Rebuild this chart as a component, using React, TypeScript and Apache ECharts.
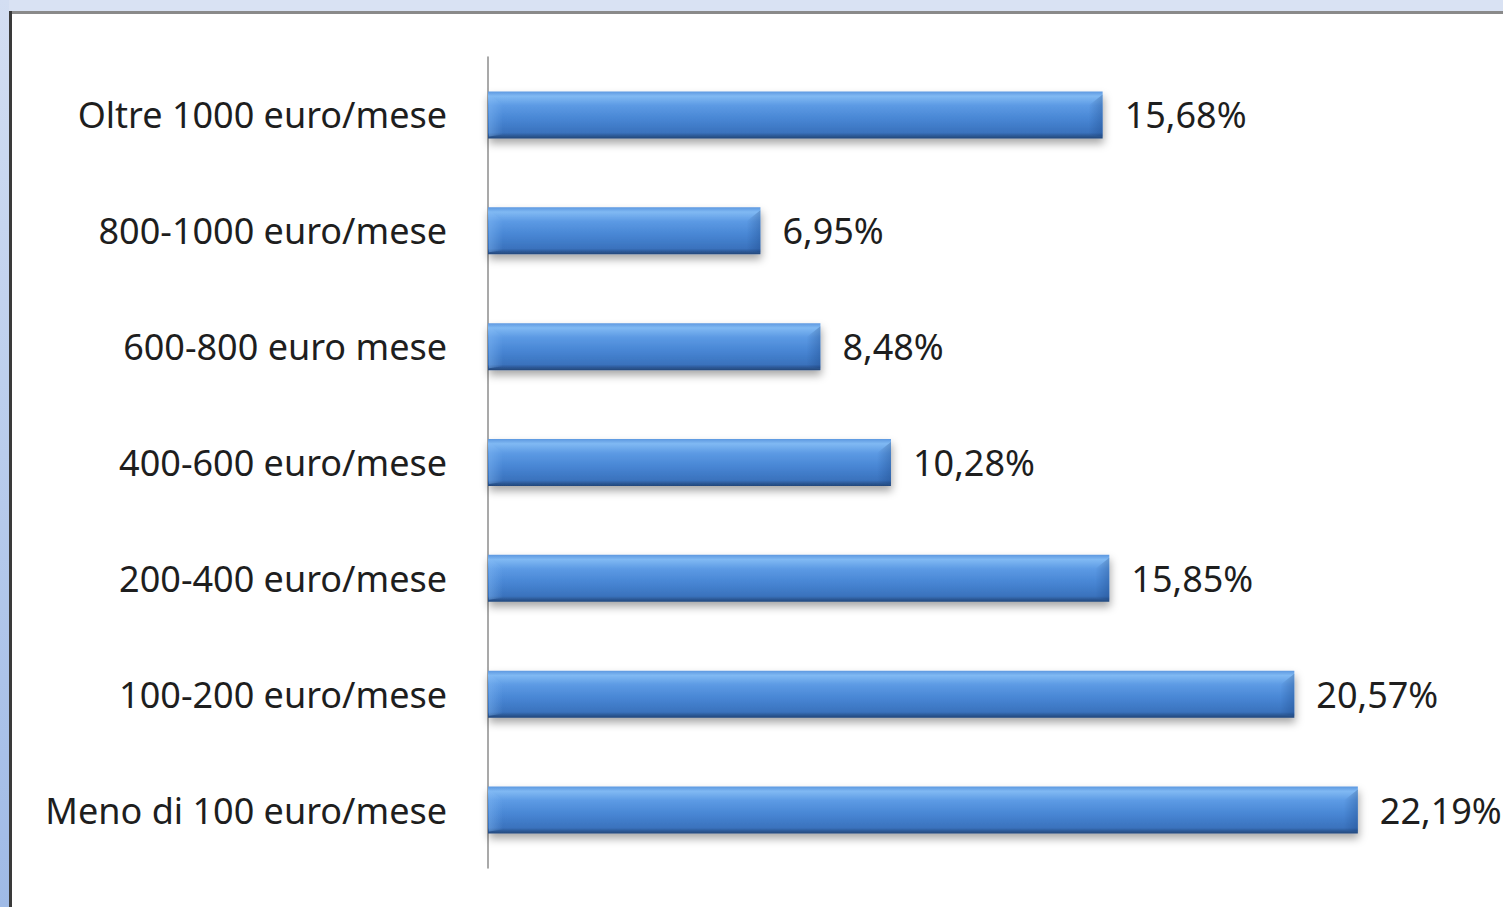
import React, { useEffect, useRef } from "react";
import * as echarts from "echarts";

const categories = [
  "Oltre 1000 euro/mese",
  "800-1000 euro/mese",
  "600-800 euro mese",
  "400-600 euro/mese",
  "200-400 euro/mese",
  "100-200 euro/mese",
  "Meno di 100 euro/mese",
];
const values = [15.68, 6.95, 8.48, 10.28, 15.85, 20.57, 22.19];

const fmt = (v: number) => v.toFixed(2).replace(".", ",") + "%";

export default function App() {
  const ref = useRef<HTMLDivElement>(null);
  useEffect(() => {
    const chart = echarts.init(ref.current!, null, { renderer: "svg" });
    const font = "'Noto Sans', sans-serif";
    const barH = 47;
    chart.setOption({
      animation: false,
      backgroundColor: "#d9e2f3",
      graphic: [
        {
          type: "rect",
          z: -10,
          shape: { x: 0, y: 0, width: 9, height: 907 },
          style: {
            fill: new echarts.graphic.LinearGradient(0, 0, 0, 1, [
              { offset: 0, color: "#d3def2" },
              { offset: 1, color: "#9fbae6" },
            ]),
          },
        },
        { type: "rect", z: -10, shape: { x: 9, y: 11, width: 1494, height: 896 }, style: { fill: "#8a8a8a" } },
        { type: "rect", z: -10, shape: { x: 9, y: 11, width: 3, height: 896 }, style: { fill: "#3a3a3a" } },
        { type: "rect", z: -10, shape: { x: 12, y: 14, width: 1491, height: 893 }, style: { fill: "#ffffff" } },
      ],
      grid: { left: 488, right: 35, top: 57, bottom: 39 },
      xAxis: { type: "value", min: 0, max: 25, show: false },
      yAxis: {
        type: "category",
        data: categories,
        inverse: true,
        axisLine: { show: true, lineStyle: { color: "#8c8c8c", width: 1.5 } },
        axisTick: { show: false },
        axisLabel: { margin: 41, fontSize: 36, color: "#1e1e1e", fontFamily: font },
      },
      series: [
        {
          type: "bar",
          data: values,
          barWidth: barH,
          z: 2,
          itemStyle: {
            color: new echarts.graphic.LinearGradient(0, 0, 0, 1, [
              { offset: 0, color: "#5d98e0" },
              { offset: 0.1, color: "#80b9f3" },
              { offset: 0.3, color: "#5c9ae4" },
              { offset: 0.6, color: "#4785d3" },
              { offset: 0.88, color: "#3a72bd" },
              { offset: 0.94, color: "#2d5a98" },
              { offset: 1, color: "#23477a" },
            ]),
            shadowColor: "rgba(0,0,0,0.35)",
            shadowBlur: 8,
            shadowOffsetY: 5,
            shadowOffsetX: 1,
          },
          label: {
            show: true,
            position: "right",
            distance: 22,
            fontSize: 36,
            color: "#1e1e1e",
            fontFamily: font,
            formatter: (p: any) => fmt(p.value),
          },
        },
        {
          type: "custom",
          z: 3,
          silent: true,
          data: values.map((v, i) => [v, i]),
          encode: { x: 0, y: 1 },
          renderItem: (params: any, api: any) => {
            const v = api.value(0);
            const i = api.value(1);
            const p0 = api.coord([0, i]);
            const p1 = api.coord([v, i]);
            const x0 = p0[0] + 1;
            const x1 = p1[0];
            const y0 = p0[1] - barH / 2;
            const y1 = p0[1] + barH / 2;
            const b = 14;
            return {
              type: "group",
              children: [
                {
                  type: "polygon",
                  shape: { points: [[x0, y0 + 3], [x0 + b, y0 + b], [x0 + b, y1 - 4], [x0, y1 - 2]] },
                  style: {
                    fill: new echarts.graphic.LinearGradient(0, 0, 1, 0, [
                      { offset: 0, color: "rgba(130,185,245,0.45)" },
                      { offset: 1, color: "rgba(130,185,245,0)" },
                    ]),
                  },
                },
                {
                  type: "polygon",
                  shape: { points: [[x1, y0 + 3], [x1 - b, y0 + b], [x1 - b, y1 - 4], [x1, y1 - 2]] },
                  style: {
                    fill: new echarts.graphic.LinearGradient(0, 0, 1, 0, [
                      { offset: 0, color: "rgba(20,60,120,0)" },
                      { offset: 1, color: "rgba(20,60,120,0.3)" },
                    ]),
                  },
                },
              ],
            };
          },
        },
      ],
    });
    return () => chart.dispose();
  }, []);
  return (
    <div
      ref={ref}
      style={{ position: "absolute", left: 0, top: 0, width: 1503, height: 907 }}
    />
  );
}
